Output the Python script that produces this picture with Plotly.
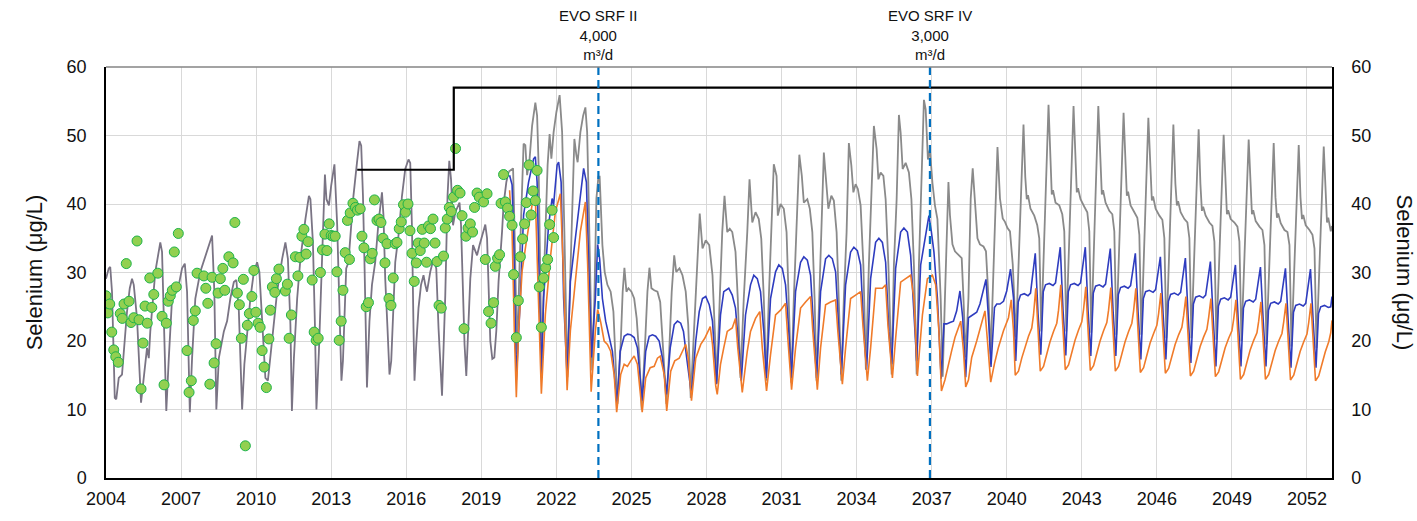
import plotly.graph_objects as go

# ---- data (decimal year, selenium ug/L) ----
GREY_HIST = [
    (2004.00, 29.1), (2004.11, 30.6), (2004.17, 30.8), (2004.24, 27.2), (2004.31, 17.5), (2004.35, 11.7),
    (2004.41, 11.5), (2004.51, 14.6), (2004.64, 15.1), (2004.71, 18.5), (2004.84, 24.3), (2004.95, 27.7),
    (2005.04, 29.1), (2005.11, 28.2), (2005.24, 23.3), (2005.40, 11.0), (2005.51, 15.1), (2005.64, 19.0),
    (2005.71, 17.5), (2005.77, 21.4), (2005.97, 30.1), (2006.11, 33.5), (2006.17, 34.4), (2006.24, 33.0),
    (2006.33, 22.4), (2006.41, 9.8), (2006.51, 17.5), (2006.64, 26.2), (2006.77, 27.7), (2006.91, 28.2),
    (2007.04, 30.6), (2007.15, 31.3), (2007.24, 27.2), (2007.35, 9.6), (2007.44, 17.5), (2007.57, 26.2),
    (2007.77, 30.1), (2007.97, 32.5), (2008.11, 34.2), (2008.24, 35.4), (2008.33, 27.2), (2008.41, 10.0),
    (2008.51, 17.5), (2008.71, 21.4), (2008.84, 22.9), (2008.97, 26.2), (2009.11, 28.6), (2009.21, 28.9),
    (2009.31, 24.3), (2009.44, 10.0), (2009.53, 16.6), (2009.64, 21.4), (2009.77, 26.2), (2009.91, 30.1),
    (2010.04, 31.5), (2010.13, 30.1), (2010.24, 22.4), (2010.37, 14.6), (2010.47, 14.2), (2010.57, 17.5),
    (2010.71, 22.4), (2010.84, 27.2), (2011.04, 32.0), (2011.17, 34.4), (2011.27, 32.0), (2011.37, 22.4),
    (2011.43, 9.8), (2011.51, 17.5), (2011.64, 26.2), (2011.77, 32.0), (2011.97, 37.8), (2012.11, 41.2),
    (2012.17, 40.7), (2012.27, 34.4), (2012.35, 22.4), (2012.41, 10.0), (2012.51, 18.5), (2012.64, 32.0),
    (2012.71, 41.7), (2012.75, 44.3), (2012.81, 40.7), (2012.91, 39.8), (2013.00, 42.7), (2013.13, 45.8),
    (2013.24, 36.9), (2013.35, 22.4), (2013.41, 14.2), (2013.47, 17.1), (2013.52, 21.9), (2013.60, 30.6),
    (2013.69, 31.5), (2013.79, 36.4), (2013.89, 41.2), (2014.03, 46.0), (2014.13, 49.2), (2014.20, 48.5),
    (2014.27, 41.2), (2014.33, 31.5), (2014.39, 19.5), (2014.43, 13.2), (2014.47, 17.1), (2014.53, 22.9),
    (2014.63, 28.2), (2014.76, 31.5), (2014.89, 37.3), (2015.03, 41.7), (2015.09, 38.3), (2015.16, 29.1),
    (2015.25, 21.9), (2015.33, 15.1), (2015.40, 17.1), (2015.47, 23.8), (2015.56, 31.5), (2015.69, 35.4),
    (2015.83, 41.2), (2015.96, 45.1), (2016.09, 46.5), (2016.16, 46.0), (2016.23, 36.4), (2016.29, 21.9),
    (2016.33, 14.2), (2016.40, 19.5), (2016.49, 24.8), (2016.59, 28.2), (2016.69, 29.6), (2016.76, 28.2),
    (2016.83, 27.2), (2016.96, 30.1), (2017.09, 32.0), (2017.20, 30.6), (2017.29, 21.9), (2017.43, 12.0),
    (2017.56, 26.7), (2017.65, 41.2), (2017.72, 46.3), (2017.79, 43.6), (2017.87, 36.9), (2017.96, 38.8),
    (2018.13, 40.2), (2018.19, 36.9), (2018.27, 26.7), (2018.33, 19.5), (2018.40, 14.9), (2018.48, 21.9),
    (2018.56, 29.1), (2018.67, 34.0), (2018.83, 32.5), (2018.93, 34.0), (2019.16, 37.0), (2019.23, 35.0),
    (2019.29, 26.3), (2019.36, 20.0), (2019.44, 17.4), (2019.52, 17.6), (2019.60, 21.5), (2019.69, 28.7),
    (2019.83, 36.0), (2019.89, 39.9), (2020.00, 43.2), (2020.09, 44.7),
]

GREY_PROJ = [
    (2020.09, 44.7), (2020.27, 45.2), (2020.33, 36.0), (2020.39, 23.9), (2020.43, 18.1), (2020.53, 31.2),
    (2020.63, 40.8), (2020.69, 48.8), (2020.76, 48.6), (2020.83, 44.2), (2020.93, 46.6), (2021.03, 51.4),
    (2021.16, 54.8), (2021.23, 52.9), (2021.29, 45.7), (2021.36, 31.2), (2021.41, 16.7), (2021.52, 31.2),
    (2021.65, 45.7), (2021.73, 50.2), (2021.80, 46.6), (2021.89, 50.5), (2022.00, 53.4), (2022.13, 55.9),
    (2022.23, 50.5), (2022.32, 36.0), (2022.40, 19.1), (2022.44, 14.7), (2022.53, 26.3), (2022.63, 40.8),
    (2022.72, 49.5), (2022.80, 47.1), (2022.85, 46.1), (2022.96, 50.5), (2023.07, 52.9), (2023.16, 54.1),
    (2023.23, 50.5), (2023.29, 40.8), (2023.36, 26.3), (2023.43, 15.7), (2023.52, 26.3), (2023.60, 40.8),
    (2023.68, 44.0), (2023.73, 44.0), (2023.84, 34.0), (2023.93, 30.1), (2024.04, 28.2), (2024.17, 27.2),
    (2024.28, 24.3), (2024.37, 16.6), (2024.44, 10.8), (2024.57, 19.5), (2024.65, 27.2), (2024.72, 30.7),
    (2024.80, 27.2), (2024.88, 27.7), (2025.00, 27.2), (2025.11, 26.2), (2025.21, 23.3), (2025.32, 17.5),
    (2025.41, 10.0), (2025.55, 20.0), (2025.64, 27.2), (2025.72, 30.7), (2025.80, 27.7), (2025.91, 27.4),
    (2026.04, 27.2), (2026.15, 25.7), (2026.28, 18.5), (2026.40, 10.8), (2026.51, 18.5), (2026.61, 27.2),
    (2026.71, 32.5), (2026.79, 30.1), (2026.92, 30.6), (2027.04, 29.6), (2027.17, 27.2), (2027.27, 22.4),
    (2027.37, 11.7), (2027.51, 22.4), (2027.64, 34.0), (2027.73, 38.6), (2027.84, 33.5), (2027.97, 34.7),
    (2028.11, 34.0), (2028.24, 29.6), (2028.35, 20.0), (2028.41, 13.8), (2028.53, 26.2), (2028.63, 35.9),
    (2028.72, 41.2), (2028.83, 35.9), (2028.93, 36.4), (2029.03, 35.9), (2029.16, 33.0), (2029.25, 26.2),
    (2029.36, 14.6), (2029.49, 26.2), (2029.63, 35.9), (2029.72, 43.6), (2029.83, 37.3), (2029.96, 38.8),
    (2030.09, 37.8), (2030.19, 34.9), (2030.29, 26.2), (2030.39, 14.2), (2030.49, 26.2), (2030.59, 35.9),
    (2030.69, 45.8), (2030.80, 44.1), (2030.85, 38.3), (2030.96, 40.0), (2031.09, 39.3), (2031.20, 35.9),
    (2031.29, 26.2), (2031.39, 13.9), (2031.49, 26.2), (2031.60, 35.9), (2031.71, 47.2), (2031.81, 44.1),
    (2031.89, 40.2), (2032.03, 40.7), (2032.13, 39.3), (2032.23, 35.9), (2032.32, 26.2), (2032.40, 14.2),
    (2032.49, 26.2), (2032.59, 35.9), (2032.69, 47.5), (2032.80, 43.1), (2032.87, 39.3), (2032.99, 41.2),
    (2033.09, 40.5), (2033.20, 35.9), (2033.29, 26.2), (2033.39, 14.2), (2033.49, 26.2), (2033.60, 35.9),
    (2033.69, 48.9), (2033.79, 45.6), (2033.87, 41.7), (2033.96, 42.9), (2034.05, 42.2), (2034.16, 39.8),
    (2034.27, 31.1), (2034.37, 15.8), (2034.49, 31.1), (2034.59, 40.7), (2034.69, 51.4), (2034.80, 48.0),
    (2034.87, 43.6), (2034.96, 44.6), (2035.07, 44.1), (2035.16, 40.7), (2035.27, 31.1), (2035.40, 15.1),
    (2035.49, 31.1), (2035.60, 40.7), (2035.69, 53.0), (2035.76, 50.4), (2035.84, 45.1), (2035.96, 46.0),
    (2036.09, 44.6), (2036.19, 40.7), (2036.29, 31.1), (2036.40, 15.1), (2036.49, 31.1), (2036.59, 43.1),
    (2036.69, 55.2), (2036.76, 53.8), (2036.85, 46.5), (2036.93, 48.0), (2037.03, 43.1), (2037.13, 39.8),
    (2037.23, 37.8), (2037.36, 26.2), (2037.44, 14.8), (2037.53, 26.3), (2037.67, 43.2), (2037.73, 38.4),
    (2037.83, 34.1), (2037.93, 33.1), (2038.07, 32.6), (2038.20, 32.1), (2038.27, 26.3), (2038.36, 17.6),
    (2038.47, 26.3), (2038.56, 40.8), (2038.64, 45.2), (2038.73, 40.8), (2038.83, 35.0), (2038.93, 34.1),
    (2039.07, 33.8), (2039.17, 33.1), (2039.27, 26.3), (2039.36, 18.1), (2039.49, 31.2), (2039.63, 48.3),
    (2039.73, 40.8), (2039.84, 37.9), (2039.93, 37.4), (2040.03, 36.5), (2040.13, 36.0), (2040.24, 31.2),
    (2040.37, 20.5), (2040.67, 51.6), (2040.74, 44.0), (2040.80, 40.7), (2040.85, 41.3), (2040.95, 39.3),
    (2041.10, 38.3), (2041.22, 36.9), (2041.30, 35.0), (2041.38, 21.4), (2041.67, 54.5), (2041.74, 46.0),
    (2041.80, 41.4), (2041.85, 42.0), (2041.95, 40.2), (2042.10, 39.8), (2042.22, 38.5), (2042.30, 36.0),
    (2042.38, 21.4), (2042.67, 54.3), (2042.74, 46.0), (2042.80, 41.7), (2042.85, 42.3), (2042.95, 40.7),
    (2043.10, 39.6), (2043.22, 38.8), (2043.30, 36.0), (2043.38, 21.2), (2043.66, 54.3), (2043.74, 45.0),
    (2043.80, 41.4), (2043.85, 42.0), (2043.95, 40.2), (2044.10, 39.0), (2044.22, 38.5), (2044.30, 36.0),
    (2044.38, 20.9), (2044.67, 53.3), (2044.74, 45.0), (2044.80, 41.2), (2044.85, 41.8), (2044.95, 39.8),
    (2045.10, 38.8), (2045.22, 38.0), (2045.30, 35.5), (2045.38, 20.9), (2045.66, 52.6), (2045.74, 44.0),
    (2045.80, 40.5), (2045.85, 41.1), (2045.95, 39.3), (2046.10, 38.3), (2046.22, 37.7), (2046.30, 35.0),
    (2046.38, 20.4), (2046.66, 51.6), (2046.74, 43.0), (2046.80, 39.8), (2046.85, 40.4), (2046.95, 38.8),
    (2047.10, 37.8), (2047.22, 37.3), (2047.30, 35.0), (2047.38, 20.4), (2047.67, 50.9), (2047.74, 43.0),
    (2047.80, 39.0), (2047.85, 39.6), (2047.95, 38.3), (2048.10, 37.3), (2048.22, 36.8), (2048.30, 34.5),
    (2048.38, 20.2), (2048.67, 50.1), (2048.74, 42.0), (2048.80, 38.5), (2048.85, 39.1), (2048.95, 37.8),
    (2049.10, 37.3), (2049.22, 36.7), (2049.30, 34.5), (2049.38, 20.0), (2049.67, 49.4), (2049.74, 42.0),
    (2049.80, 38.5), (2049.85, 39.1), (2049.95, 37.5), (2050.10, 36.7), (2050.22, 36.2), (2050.30, 34.0),
    (2050.38, 19.5), (2050.67, 48.9), (2050.74, 41.0), (2050.80, 38.0), (2050.85, 38.6), (2050.95, 37.2),
    (2051.10, 36.2), (2051.22, 35.9), (2051.30, 34.0), (2051.38, 19.2), (2051.67, 48.6), (2051.74, 41.0),
    (2051.80, 37.8), (2051.85, 38.4), (2051.95, 36.9), (2052.10, 36.2), (2052.22, 35.5), (2052.30, 33.5),
    (2052.38, 19.0), (2052.67, 48.4), (2052.74, 41.0), (2052.80, 37.3), (2052.85, 38.0), (2052.95, 36.0),
    (2053.00, 36.8),
]

BLUE = [
    (2020.13, 44.2), (2020.23, 42.8), (2020.29, 36.0), (2020.40, 14.3), (2020.56, 26.3), (2020.69, 38.4),
    (2020.89, 43.2), (2021.09, 46.6), (2021.16, 46.9), (2021.23, 43.2), (2021.33, 26.3), (2021.40, 14.7),
    (2021.49, 26.3), (2021.69, 37.0), (2021.83, 40.8), (2021.89, 39.9), (2022.03, 45.7), (2022.09, 46.1),
    (2022.19, 43.2), (2022.29, 26.3), (2022.43, 14.7), (2022.56, 28.7), (2022.76, 35.0), (2022.89, 39.4),
    (2022.96, 40.8), (2023.09, 45.2), (2023.20, 43.2), (2023.29, 31.2), (2023.40, 17.6), (2023.56, 26.3),
    (2023.65, 34.1), (2023.73, 32.0), (2023.84, 26.2), (2023.97, 22.9), (2024.11, 20.4), (2024.24, 18.5),
    (2024.33, 14.6), (2024.43, 10.8), (2024.55, 18.5), (2024.71, 20.7), (2024.84, 21.0), (2024.97, 20.9),
    (2025.11, 20.5), (2025.24, 19.0), (2025.35, 14.6), (2025.43, 11.3), (2025.57, 18.5), (2025.71, 20.7),
    (2025.84, 20.9), (2025.97, 20.7), (2026.11, 20.0), (2026.24, 17.5), (2026.40, 12.2), (2026.55, 19.0),
    (2026.71, 22.4), (2026.84, 22.9), (2026.97, 22.6), (2027.08, 21.4), (2027.21, 17.5), (2027.40, 12.2),
    (2027.57, 20.0), (2027.71, 24.3), (2027.84, 26.2), (2027.97, 26.5), (2028.11, 25.3), (2028.24, 22.9),
    (2028.40, 13.7), (2028.56, 23.8), (2028.69, 27.2), (2028.89, 27.7), (2029.03, 26.7), (2029.16, 24.8),
    (2029.29, 19.0), (2029.39, 14.2), (2029.56, 23.8), (2029.76, 28.2), (2029.89, 29.6), (2030.03, 29.1),
    (2030.16, 27.2), (2030.29, 21.4), (2030.39, 14.6), (2030.56, 26.2), (2030.76, 30.1), (2030.89, 31.1),
    (2031.03, 30.6), (2031.16, 28.2), (2031.29, 21.4), (2031.39, 14.6), (2031.56, 27.2), (2031.76, 31.5),
    (2031.89, 32.3), (2032.03, 31.8), (2032.16, 29.6), (2032.29, 21.4), (2032.40, 14.6), (2032.56, 27.2),
    (2032.76, 32.0), (2032.89, 32.5), (2033.03, 32.0), (2033.16, 30.1), (2033.29, 21.4), (2033.39, 15.1),
    (2033.56, 28.2), (2033.76, 33.0), (2033.89, 33.7), (2034.03, 33.2), (2034.16, 31.1), (2034.29, 21.4),
    (2034.40, 15.8), (2034.56, 29.1), (2034.76, 34.4), (2034.89, 35.0), (2035.03, 34.4), (2035.16, 31.5),
    (2035.29, 21.4), (2035.40, 16.6), (2035.56, 30.6), (2035.76, 35.9), (2035.89, 36.5), (2036.03, 35.9),
    (2036.16, 32.5), (2036.29, 23.8), (2036.40, 17.1), (2036.56, 31.1), (2036.76, 35.9), (2036.89, 38.3),
    (2036.99, 35.9), (2037.09, 33.0), (2037.23, 26.2), (2037.38, 14.5), (2037.49, 22.5), (2037.60, 22.5),
    (2037.73, 22.7), (2037.87, 22.9), (2038.00, 24.4), (2038.13, 27.3), (2038.24, 23.4), (2038.36, 14.7),
    (2038.47, 23.4), (2038.60, 23.7), (2038.80, 24.2), (2038.93, 25.4), (2039.07, 27.3), (2039.17, 29.0),
    (2039.27, 23.4), (2039.37, 16.2), (2039.51, 24.9), (2039.60, 25.4), (2039.73, 25.4), (2039.87, 25.8),
    (2040.00, 27.3), (2040.15, 30.5), (2040.27, 26.3), (2040.36, 17.1), (2040.46, 25.7), (2040.55, 26.7),
    (2040.70, 26.9), (2040.85, 26.6), (2040.95, 27.0), (2041.05, 30.0), (2041.14, 32.8), (2041.25, 24.0),
    (2041.36, 18.0), (2041.46, 27.2), (2041.55, 28.2), (2041.70, 28.4), (2041.85, 28.1), (2041.95, 28.5),
    (2042.05, 31.0), (2042.14, 33.7), (2042.25, 24.5), (2042.36, 17.9), (2042.46, 27.2), (2042.55, 28.2),
    (2042.70, 28.4), (2042.85, 28.1), (2042.95, 28.5), (2043.05, 31.0), (2043.14, 33.7), (2043.25, 24.5),
    (2043.36, 17.8), (2043.46, 27.0), (2043.55, 28.0), (2043.70, 28.2), (2043.85, 27.9), (2043.95, 28.3),
    (2044.05, 30.8), (2044.14, 33.5), (2044.25, 24.4), (2044.36, 17.8), (2044.46, 26.8), (2044.55, 27.8),
    (2044.70, 28.0), (2044.85, 27.7), (2044.95, 28.1), (2045.05, 30.4), (2045.14, 32.8), (2045.25, 24.2),
    (2045.36, 17.3), (2045.46, 26.2), (2045.55, 27.2), (2045.70, 27.4), (2045.85, 27.1), (2045.95, 27.5),
    (2046.05, 29.8), (2046.14, 32.3), (2046.25, 23.9), (2046.36, 17.3), (2046.46, 25.8), (2046.55, 26.8),
    (2046.70, 27.0), (2046.85, 26.7), (2046.95, 27.1), (2047.05, 29.5), (2047.14, 32.1), (2047.25, 23.6),
    (2047.36, 16.8), (2047.46, 25.4), (2047.55, 26.4), (2047.70, 26.6), (2047.85, 26.3), (2047.95, 26.7),
    (2048.05, 29.0), (2048.14, 31.6), (2048.25, 23.4), (2048.36, 16.3), (2048.46, 25.1), (2048.55, 26.1),
    (2048.70, 26.3), (2048.85, 26.0), (2048.95, 26.4), (2049.05, 28.7), (2049.14, 31.1), (2049.25, 23.2),
    (2049.36, 16.3), (2049.46, 24.8), (2049.55, 25.8), (2049.70, 26.0), (2049.85, 25.7), (2049.95, 26.1),
    (2050.05, 28.4), (2050.14, 30.8), (2050.25, 23.0), (2050.36, 16.3), (2050.46, 24.5), (2050.55, 25.5),
    (2050.70, 25.7), (2050.85, 25.4), (2050.95, 25.8), (2051.05, 28.1), (2051.14, 30.6), (2051.25, 22.8),
    (2051.36, 16.1), (2051.46, 24.2), (2051.55, 25.2), (2051.70, 25.4), (2051.85, 25.1), (2051.95, 25.5),
    (2052.05, 27.9), (2052.14, 30.5), (2052.25, 22.7), (2052.36, 16.1), (2052.46, 24.0), (2052.55, 25.0),
    (2052.70, 25.2), (2052.85, 24.9), (2052.95, 25.0), (2053.00, 26.5),
]

ORANGE = [
    (2020.13, 42.0), (2020.23, 36.0), (2020.32, 21.5), (2020.40, 11.8), (2020.49, 21.5), (2020.63, 30.2),
    (2020.80, 34.5), (2020.96, 37.9), (2021.09, 41.3), (2021.16, 40.8), (2021.29, 26.3), (2021.40, 12.3),
    (2021.56, 23.9), (2021.76, 32.1), (2021.96, 38.9), (2022.16, 41.5), (2022.27, 31.2), (2022.43, 12.8),
    (2022.56, 21.5), (2022.76, 28.7), (2022.96, 36.0), (2023.16, 40.3), (2023.25, 31.2), (2023.39, 12.6),
    (2023.56, 21.5), (2023.65, 24.6), (2023.77, 22.8), (2023.91, 20.0), (2024.04, 19.5), (2024.17, 18.5),
    (2024.31, 15.1), (2024.41, 9.6), (2024.57, 15.1), (2024.71, 16.6), (2024.84, 16.3), (2024.97, 17.1),
    (2025.11, 17.8), (2025.24, 16.6), (2025.35, 12.7), (2025.43, 9.6), (2025.57, 14.6), (2025.75, 16.1),
    (2025.91, 16.3), (2026.04, 17.5), (2026.15, 17.8), (2026.31, 15.1), (2026.41, 9.8), (2026.57, 15.6),
    (2026.73, 17.1), (2026.91, 17.5), (2027.04, 18.5), (2027.17, 19.5), (2027.27, 17.5), (2027.40, 11.3),
    (2027.57, 17.5), (2027.77, 19.5), (2027.93, 20.4), (2028.07, 21.4), (2028.15, 22.1), (2028.24, 19.5),
    (2028.37, 13.4), (2028.43, 12.2), (2028.56, 16.6), (2028.69, 19.0), (2028.83, 21.4), (2029.03, 21.9),
    (2029.16, 23.3), (2029.25, 19.0), (2029.43, 12.5), (2029.63, 18.5), (2029.76, 21.4), (2029.96, 23.3),
    (2030.13, 24.3), (2030.23, 19.0), (2030.40, 12.7), (2030.56, 18.0), (2030.76, 23.8), (2030.96, 24.5),
    (2031.16, 25.5), (2031.25, 20.4), (2031.40, 12.9), (2031.56, 19.0), (2031.76, 24.8), (2031.96, 25.7),
    (2032.16, 26.5), (2032.25, 21.4), (2032.43, 12.9), (2032.56, 19.0), (2032.76, 25.3), (2032.96, 25.7),
    (2033.16, 26.0), (2033.25, 21.4), (2033.43, 13.7), (2033.56, 19.0), (2033.76, 26.2), (2033.96, 26.7),
    (2034.16, 27.2), (2034.25, 22.4), (2034.43, 14.2), (2034.56, 19.0), (2034.76, 27.7), (2035.03, 27.7),
    (2035.16, 28.2), (2035.25, 22.4), (2035.43, 14.6), (2035.56, 20.4), (2035.76, 28.6), (2035.96, 29.1),
    (2036.16, 29.6), (2036.29, 26.2), (2036.43, 14.9), (2036.63, 23.8), (2036.83, 29.1), (2037.03, 29.6),
    (2037.16, 28.2), (2037.29, 21.4), (2037.39, 12.7), (2037.53, 14.3), (2037.67, 16.7), (2037.80, 18.6),
    (2037.93, 20.5), (2038.07, 22.0), (2038.16, 22.9), (2038.27, 18.6), (2038.36, 13.3), (2038.47, 14.3),
    (2038.60, 17.6), (2038.80, 20.0), (2039.00, 22.5), (2039.13, 24.4), (2039.23, 20.0), (2039.36, 14.0),
    (2039.51, 16.7), (2039.67, 19.1), (2039.87, 21.5), (2040.07, 23.4), (2040.18, 26.0), (2040.27, 21.5),
    (2040.34, 15.0), (2040.47, 15.6), (2040.60, 17.5), (2040.73, 19.2), (2040.87, 20.7), (2041.00, 21.9),
    (2041.07, 23.8), (2041.16, 27.7), (2041.23, 22.4), (2041.34, 15.6), (2041.47, 16.3), (2041.60, 18.2),
    (2041.73, 19.9), (2041.87, 21.4), (2042.00, 22.6), (2042.07, 24.5), (2042.16, 28.2), (2042.23, 22.9),
    (2042.34, 15.8), (2042.47, 16.5), (2042.60, 18.4), (2042.73, 20.1), (2042.87, 21.6), (2043.00, 22.8),
    (2043.07, 24.6), (2043.16, 27.9), (2043.23, 22.8), (2043.34, 15.7), (2043.47, 16.4), (2043.60, 18.3),
    (2043.73, 20.0), (2043.87, 21.5), (2044.00, 22.7), (2044.07, 24.5), (2044.16, 27.8), (2044.23, 22.7),
    (2044.34, 15.6), (2044.47, 16.3), (2044.60, 18.2), (2044.73, 19.9), (2044.87, 21.4), (2045.00, 22.6),
    (2045.07, 24.4), (2045.16, 27.7), (2045.23, 22.6), (2045.34, 15.4), (2045.47, 16.1), (2045.60, 18.0),
    (2045.73, 19.7), (2045.87, 21.1), (2046.00, 22.3), (2046.07, 24.0), (2046.16, 27.0), (2046.23, 22.2),
    (2046.34, 15.3), (2046.47, 16.0), (2046.60, 17.8), (2046.73, 19.5), (2046.87, 20.9), (2047.00, 22.0),
    (2047.07, 23.7), (2047.16, 26.5), (2047.23, 21.9), (2047.34, 14.9), (2047.47, 15.6), (2047.60, 17.5),
    (2047.73, 19.2), (2047.87, 20.6), (2048.00, 21.7), (2048.07, 23.4), (2048.16, 26.2), (2048.23, 21.7),
    (2048.34, 14.8), (2048.47, 15.5), (2048.60, 17.4), (2048.73, 19.0), (2048.87, 20.4), (2049.00, 21.5),
    (2049.07, 23.2), (2049.16, 26.0), (2049.23, 21.5), (2049.34, 14.4), (2049.47, 15.1), (2049.60, 17.0),
    (2049.73, 18.7), (2049.87, 20.1), (2050.00, 21.2), (2050.07, 22.9), (2050.16, 25.7), (2050.23, 21.3),
    (2050.34, 14.4), (2050.47, 15.1), (2050.60, 17.0), (2050.73, 18.6), (2050.87, 20.0), (2051.00, 21.1),
    (2051.07, 22.8), (2051.16, 25.5), (2051.23, 21.2), (2051.34, 14.3), (2051.47, 15.0), (2051.60, 16.9),
    (2051.73, 18.5), (2051.87, 19.9), (2052.00, 21.0), (2052.07, 22.7), (2052.16, 25.5), (2052.23, 21.1),
    (2052.34, 14.2), (2052.47, 14.9), (2052.60, 16.8), (2052.73, 18.4), (2052.87, 19.9), (2052.95, 21.2),
    (2053.00, 23.0),
]

OBSERVED = [
    (2004.00, 26.6), (2004.07, 24.1), (2004.15, 25.4), (2004.23, 21.3), (2004.31, 18.7), (2004.39, 17.7),
    (2004.49, 16.9), (2004.57, 24.0), (2004.65, 23.3), (2004.72, 25.4), (2004.81, 31.3), (2004.92, 25.8),
    (2005.00, 22.7), (2005.11, 23.4), (2005.24, 34.6), (2005.32, 23.1), (2005.40, 13.0), (2005.48, 19.7),
    (2005.56, 25.1), (2005.65, 22.6), (2005.75, 29.2), (2005.83, 24.9), (2005.91, 26.8), (2006.07, 29.9),
    (2006.24, 23.6), (2006.32, 13.6), (2006.41, 22.6), (2006.49, 25.8), (2006.57, 26.6), (2006.65, 27.4),
    (2006.73, 33.0), (2006.81, 27.9), (2006.89, 35.7), (2007.24, 18.6), (2007.32, 12.5), (2007.41, 14.2),
    (2007.49, 23.0), (2007.57, 24.4), (2007.64, 29.9), (2007.91, 29.5), (2007.99, 27.7), (2008.07, 25.5),
    (2008.15, 13.7), (2008.24, 29.3), (2008.32, 16.8), (2008.40, 19.6), (2008.48, 27.0), (2008.57, 29.1),
    (2008.67, 30.6), (2008.75, 27.4), (2008.91, 32.3), (2009.08, 31.4), (2009.15, 37.3), (2009.25, 27.0),
    (2009.33, 25.3), (2009.41, 20.4), (2009.49, 29.0), (2009.57, 4.7), (2009.65, 22.3), (2009.73, 24.0),
    (2009.83, 26.5), (2009.91, 30.3), (2009.99, 24.2), (2010.08, 22.6), (2010.16, 22.0), (2010.24, 18.6),
    (2010.32, 16.2), (2010.41, 13.2), (2010.51, 20.3), (2010.57, 24.5), (2010.65, 27.9), (2010.75, 27.1),
    (2010.81, 29.1), (2010.91, 30.5), (2011.17, 27.3), (2011.25, 28.3), (2011.32, 20.4), (2011.41, 23.8),
    (2011.57, 32.3), (2011.67, 29.5), (2011.75, 32.2), (2011.83, 35.3), (2011.91, 36.3), (2012.00, 32.7),
    (2012.08, 34.5), (2012.24, 28.9), (2012.32, 21.3), (2012.40, 20.1), (2012.48, 20.4), (2012.57, 30.0),
    (2012.65, 33.3), (2012.75, 35.6), (2012.83, 33.2), (2012.92, 37.1), (2013.00, 35.4), (2013.08, 35.3),
    (2013.16, 35.3), (2013.23, 30.1), (2013.32, 20.1), (2013.40, 22.9), (2013.47, 27.4), (2013.56, 32.9),
    (2013.65, 37.6), (2013.73, 31.9), (2013.76, 38.7), (2013.87, 40.1), (2013.97, 39.5), (2014.05, 39.1),
    (2014.16, 39.3), (2014.23, 35.3), (2014.31, 33.6), (2014.40, 25.0), (2014.49, 25.6), (2014.56, 32.0),
    (2014.64, 32.8), (2014.73, 40.6), (2014.83, 37.6), (2014.91, 37.8), (2014.99, 37.3), (2015.07, 35.0),
    (2015.15, 31.4), (2015.23, 34.2), (2015.31, 26.2), (2015.39, 25.2), (2015.48, 29.2), (2015.56, 34.2),
    (2015.63, 34.4), (2015.72, 36.4), (2015.80, 37.4), (2015.89, 39.9), (2015.97, 38.8), (2016.07, 40.0),
    (2016.15, 36.1), (2016.23, 32.8), (2016.32, 28.7), (2016.40, 31.4), (2016.48, 34.3), (2016.56, 33.2),
    (2016.64, 36.3), (2016.72, 34.3), (2016.81, 31.5), (2016.89, 36.8), (2016.97, 36.4), (2017.07, 37.8),
    (2017.15, 34.3), (2017.23, 31.6), (2017.31, 25.2), (2017.40, 24.8), (2017.49, 32.4), (2017.56, 36.5),
    (2017.64, 37.8), (2017.72, 39.5), (2017.80, 38.9), (2017.89, 41.0), (2017.97, 48.1), (2018.05, 42.0),
    (2018.15, 41.6), (2018.23, 38.3), (2018.31, 21.8), (2018.39, 35.3), (2018.47, 36.5), (2018.56, 37.1),
    (2018.65, 35.9), (2018.73, 39.5), (2018.83, 41.6), (2018.92, 41.0), (2019.09, 40.3), (2019.23, 41.5),
    (2019.16, 31.9), (2019.29, 24.3), (2019.39, 22.6), (2019.49, 25.6), (2019.56, 30.9), (2019.65, 32.1),
    (2019.73, 32.6), (2019.79, 40.1), (2019.89, 44.3), (2019.96, 40.3), (2020.05, 39.4), (2020.13, 38.2),
    (2020.23, 36.9), (2020.29, 29.7), (2020.40, 20.5), (2020.48, 25.9), (2020.56, 32.3), (2020.65, 34.9),
    (2020.73, 37.1), (2020.80, 40.2), (2020.91, 45.7), (2020.99, 38.4), (2021.07, 41.9), (2021.16, 40.5),
    (2021.23, 44.9), (2021.32, 27.9), (2021.40, 22.0), (2021.49, 29.2), (2021.57, 30.7), (2021.65, 31.9),
    (2021.73, 37.0), (2021.83, 39.1), (2021.89, 35.1),
]

LIMIT_YEAR = [2014.04, 2017.90, 2017.90, 2053.00]
LIMIT_VAL = [45, 45, 57, 57]

EVENTS = [
    (2023.68, 'EVO SRF II<br>4,000<br>m³/d'),
    (2036.93, 'EVO SRF IV<br>3,000<br>m³/d'),
]

FONT = 'Liberation Sans, Arial, sans-serif'


def xy(pairs):
    return [p[0] for p in pairs], [p[1] for p in pairs]


fig = go.Figure()

x, y = xy(GREY_HIST)
fig.add_trace(go.Scatter(x=x, y=y, mode='lines', line=dict(color='#7a7484', width=1.8)))
x, y = xy(GREY_PROJ)
fig.add_trace(go.Scatter(x=x, y=y, mode='lines', line=dict(color='#8a8a8a', width=1.8)))
x, y = xy(BLUE)
fig.add_trace(go.Scatter(x=x, y=y, mode='lines', line=dict(color='#2e3cbf', width=1.6)))
x, y = xy(ORANGE)
fig.add_trace(go.Scatter(x=x, y=y, mode='lines', line=dict(color='#f07b2a', width=1.6)))
x, y = xy(OBSERVED)
fig.add_trace(go.Scatter(x=x, y=y, mode='markers',
                         marker=dict(color='#92d050', size=10, line=dict(color='#1db34a', width=1))))
fig.add_trace(go.Scatter(x=LIMIT_YEAR, y=LIMIT_VAL, mode='lines', yaxis='y2',
                         line=dict(color='black', width=2.2)))

for yr, label in EVENTS:
    fig.add_shape(type='line', x0=yr, x1=yr, y0=0, y1=1, yref='paper',
                  line=dict(color='#0070c0', width=2.2, dash='8px,5px'))
    fig.add_annotation(x=yr, y=1, yref='paper', yanchor='bottom', yshift=2,
                       text=label, showarrow=False,
                       font=dict(family=FONT, size=15, color='#111'))

# grey frame line along the top of the plot area
fig.add_shape(type='line', xref='paper', yref='paper', x0=0, x1=1, y0=1, y1=1,
              line=dict(color='#858585', width=1.5))

fig.add_annotation(xref='paper', yref='paper', x=1.0595, y=0.5, xanchor='center',
                   yanchor='middle', textangle=90,
                   text='Selenium (μg/L)', showarrow=False,
                   font=dict(family=FONT, size=22, color='#111'))

axis_common = dict(showline=True, linecolor='black', linewidth=1.5, ticks='',
                   zeroline=False, tickfont=dict(family=FONT, size=18, color='#111'))

fig.update_layout(
    width=1417, height=521,
    margin=dict(l=106, r=85, t=67, b=40),
    paper_bgcolor='white', plot_bgcolor='white',
    showlegend=False,
    hovermode=False,
    font=dict(family=FONT, color='#111'),
    xaxis=dict(range=[2004, 2053], tick0=2004, dtick=3, tickformat='d',
               showgrid=True, gridcolor='#d9d9d9', gridwidth=1,
               ticklabelstandoff=4, **axis_common),
    yaxis=dict(range=[0, 60], dtick=10, showgrid=True, gridcolor='#d9d9d9',
               title=dict(text='Selenium (μg/L)', font=dict(family=FONT, size=22, color='#111'),
                          standoff=18),
               ticklabelstandoff=14, **axis_common),
    yaxis2=dict(range=[0, 60], dtick=10, overlaying='y', side='right', showgrid=False,
                ticklabelstandoff=14, **axis_common),
)

# drop the browser's default page margin so the figure sits at the window origin
fig.write_html('out.html', config={'displayModeBar': False},
               post_script="document.body.style.margin='0';")
